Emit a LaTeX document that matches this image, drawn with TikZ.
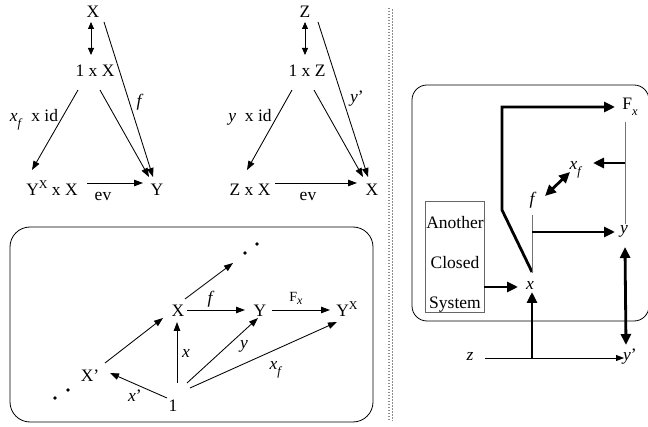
\documentclass[tikz,border=0pt]{standalone}
\usepackage{fontspec}
\setmainfont{Liberation Serif}
\usetikzlibrary{arrows.meta,calc}
\newcommand\mysb[1]{\raisebox{-0.3em}{\fontsize{12.5}{12.5}\selectfont #1}}
\newcommand\mysp[1]{\raisebox{0.45em}{\fontsize{12}{12}\selectfont #1}}
\begin{document}
\begin{tikzpicture}[x=1pt,y=-1pt,
  lbl/.style={anchor=base,inner sep=0pt,font=\fontsize{17.5}{21}\selectfont},
  small/.style={anchor=base,inner sep=0pt,font=\fontsize{14}{16}\selectfont},
  thinarr/.style={line width=0.85pt,-{Triangle[length=9pt,width=6.5pt]}},
  thinboth/.style={line width=0.85pt,{Triangle[length=7pt,width=6pt]}-{Triangle[length=7pt,width=6pt]}},
  thickarr/.style={line width=2.8pt,-{Triangle[length=11pt,width=10pt]}},
  thickboth/.style={line width=2.8pt,{Triangle[length=11pt,width=10pt]}-{Triangle[length=11pt,width=10pt]}},
  gline/.style={line width=0.8pt,draw=black!55},
  dotn/.style={circle,fill=black,inner sep=0pt,minimum size=3.6pt},
  frame/.style={line width=0.8pt},
]
\useasboundingbox (0,0) rectangle (648,427);

% ---------- top-left triangle ----------
\node[lbl] (X1) at (93,18) {X};
\node[lbl] (oneX) at (95,77) {1 x X};
\node[lbl] (YXX) at (52,196) {Y\mysp{X} x X};
\node[lbl] (Y1) at (157,196) {Y};
\node[lbl] (lxf) at (34,122) {\textit{x}\mysb{\textit{f}}\ \ x id};
\node[lbl] (lf1) at (140,107) {\textit{f}};
\node[lbl] (lev1) at (103,201) {ev};
\draw[thinboth] ($(X1.base)+(-2,4)$) -- ($(oneX.base)+(-4,-22)$);
\draw[thinarr] ($(oneX.base)+(-17,13)$) -- ($(YXX.base)+(-20,-26)$);
\draw[thinarr] ($(oneX.base)+(5,13)$) -- ($(Y1.base)+(-8,-19)$);
\draw[thinarr] ($(X1.base)+(11,4)$) -- ($(Y1.base)+(-4,-19)$);
\draw[thinarr] ($(YXX.base)+(35,-13)$) -- ($(Y1.base)+(-14,-13)$);

% ---------- top-middle triangle ----------
\node[lbl] (Z2) at (305,18) {Z};
\node[lbl] (oneZ) at (307,77) {1 x Z};
\node[lbl] (ZXX) at (250,196) {Z x X};
\node[lbl] (X2) at (372,196) {X};
\node[lbl] (lyid) at (250,122) {\textit{y}\ \ x id};
\node[lbl] (lyp) at (357,103) {\textit{y}'};
\node[lbl] (lev2) at (308,201) {ev};
\draw[thinboth] ($(Z2.base)+(0,4)$) -- ($(oneZ.base)+(-2,-22)$);
\draw[thinarr] ($(oneZ.base)+(-15,13)$) -- ($(ZXX.base)+(-3,-26)$);
\draw[thinarr] ($(oneZ.base)+(7,13)$) -- ($(X2.base)+(-9,-19)$);
\draw[thinarr] ($(Z2.base)+(13,4)$) -- ($(X2.base)+(-4,-19)$);
\draw[thinarr] ($(ZXX.base)+(25,-13)$) -- ($(X2.base)+(-15,-13)$);

% ---------- separator ----------
\draw[black!45, line width=1.3pt, dash pattern=on 1.3pt off 1.7pt] (389,8) -- (389,421);
\draw[black!45, line width=1.3pt, dash pattern=on 1.3pt off 1.7pt] (392.5,9.5) -- (392.5,421);

% ---------- bottom-left box ----------
\draw[frame, rounded corners=20pt] (10,227) rectangle (373,422);
\node[lbl] (Xb) at (178,317) {X};
\node[lbl] (Yb) at (260,317) {Y};
\node[lbl] (YXb) at (347,317) {Y\mysp{X}};
\node[lbl] (Xp) at (90,382) {X'};
\node[lbl] (one) at (173,412) {1};
\node[dotn] (d1) at (245,253) {};
\node[dotn] (d2) at (257,244) {};
\node[dotn] (d3) at (55,398) {};
\node[dotn] (d4) at (68,390) {};
\node[lbl] (lfb) at (211,304) {\textit{f}};
\node[small] (lFx) at (296,302) {F\raisebox{-0.2em}{\fontsize{12}{12}\selectfont\textit{x}}};
\node[lbl] (lxb) at (186,358) {\textit{x}};
\node[lbl] (lyb) at (244,349) {\textit{y}};
\node[lbl] (lxp) at (135,402) {\textit{x}'};
\node[lbl] (lxfb) at (276,370) {\textit{x}\mysb{\textit{f}}};
\draw[thinarr] ($(Xb.base)+(7,-18)$) -- ($(d1)+(-12,10)$);
\draw[thinarr] ($(Xb.base)+(9,-7)$) -- ($(Yb.base)+(-15,-7)$);
\draw[thinarr] ($(Yb.base)+(12,-7)$) -- ($(YXb.base)+(-17,-7)$);
\draw[thinarr] ($(Xp.base)+(15,-19)$) -- ($(Xb.base)+(-15,1)$);
\draw[thinarr] ($(one.base)+(-6,-14)$) -- ($(Xp.base)+(20,-9)$);
\draw[thinarr] ($(one.base)+(4,-29)$) -- ($(Xb.base)+(-1,5)$);
\draw[thinarr] ($(one.base)+(14,-29)$) -- ($(Yb.base)+(-2,1)$);
\draw[thinarr] ($(one.base)+(17,-24)$) -- ($(YXb.base)+(-10,5)$);

% ---------- right box ----------
\draw[frame, rounded corners=15pt] (412,85) rectangle (649,321);
\node[lbl] (Fx) at (630,110) {F\mysb{\textit{x}}};
\node[lbl] (xf) at (576,170) {\textit{x}\mysb{\textit{f}}};
\node[lbl] (fr) at (533,205) {\textit{f}};
\node[lbl] (yy) at (624,234) {\textit{y}};
\node[lbl] (xx) at (530,290) {\textit{x}};
\node[lbl] (zz) at (470,361) {\textit{z}};
\node[lbl] (yp) at (630,361) {\textit{y}'};
\node[draw=black!60, line width=0.8pt, minimum width=59pt, minimum height=111pt, inner sep=0pt] (acs) at (454.5,256.5) {};
\node[inner sep=0pt, align=center, font=\fontsize{17.5}{40}\selectfont] (acstxt) at (455,264) {Another\\Closed\\System};

\draw[thickarr] ($(xx.base)+(2,-18)$) -- ($(xx.base)+(-28,-80)$) |- ($(Fx.base)+(-15,-3)$);
\coordinate (vtop) at ($(Fx.base)+(-5,12)$);
\coordinate (vbot) at ($(yy.base)+(1,-10)$);
\draw[gline] (vtop) -- (vbot);
\coordinate (vmid) at ($(Fx.base)+(-5,53)$);
\draw[thickarr] (vmid) -- ($(xf.base)+(17,-7)$);
\draw[thickboth] ($(xf.base)+(-6,2)$) -- ($(fr.base)+(12,-9)$);
\coordinate (ftop) at ($(fr.base)+(-1,10)$);
\coordinate (fbot) at ($(xx.base)+(2,-17)$);
\draw[gline] (ftop) -- (fbot);
\coordinate (fmid) at ($(fr.base)+(-1,27)$);
\draw[thickarr] (fmid) -- ($(yy.base)+(-9,-2)$);
\draw[thickboth] ($(yy.base)+(1,13)$) -- ($(yp.base)+(-4,-16)$);
\coordinate (xin) at ($(xx.base)+(-12,-3)$);
\draw[thickarr] (acs.east |- xin) -- (xin);
\draw[line width=0.8pt,-{Triangle[length=8pt,width=6pt]}] ($(zz.base)+(15,-3)$) -- ($(yp.base)+(-6,-3)$);
\coordinate (zmid) at ($(zz.base)+(62,-3)$);
\draw[thickarr] (zmid) -- ($(xx.base)+(2,2)$);
\end{tikzpicture}
\end{document}
